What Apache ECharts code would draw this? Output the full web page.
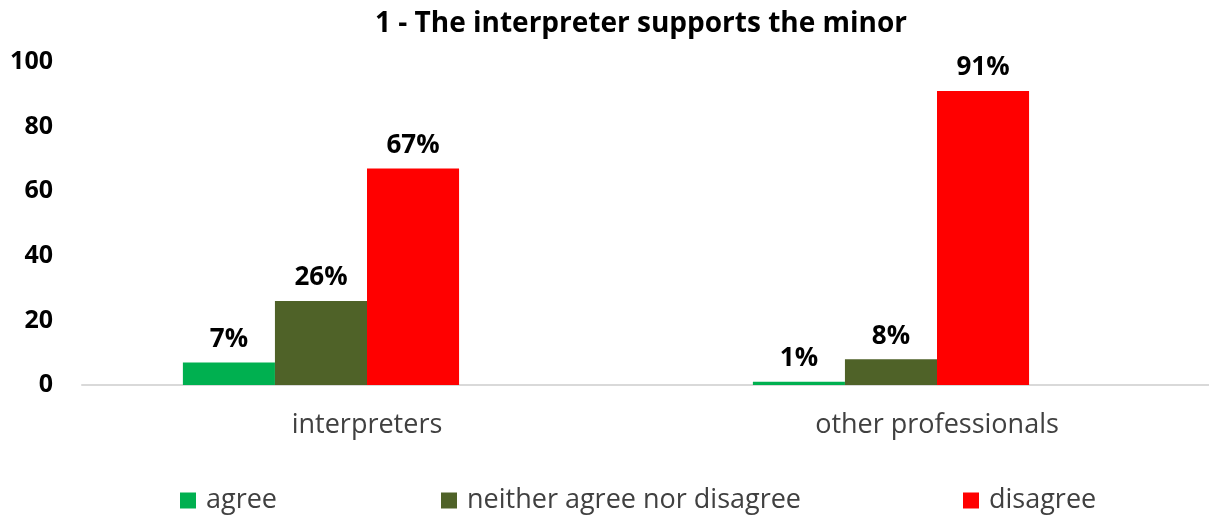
<!DOCTYPE html>
<html>
<head>
<meta charset="utf-8">
<script src="https://cdn.jsdelivr.net/npm/echarts@6/dist/echarts.min.js"></script>
<style>
  html, body { margin: 0; padding: 0; background: #fff; }
  #chart { width: 1209px; height: 515px; }
</style>
</head>
<body>
<div id="chart"></div>
<script>
var categories = ['interpreters', 'other professionals'];
var agree = [7, 1];
var neither = [26, 8];
var disagree = [67, 91];
var yTicks = [0, 20, 40, 60, 80, 100];

var FONT = 'Open Sans';
var labelStyle = {
  show: true, position: 'top', distance: 10,
  formatter: '{c}%', fontFamily: FONT, fontWeight: 'bold', fontSize: 26, color: '#000'
};

function legendAt(name, left) {
  return {
    data: [name], left: left, top: 487, padding: 0, icon: 'rect',
    itemWidth: 16, itemHeight: 16, itemGap: 10,
    textStyle: { fontFamily: FONT, fontSize: 27, color: '#404040', padding: [0, 0, 0, 5] }
  };
}

var myChart = echarts.init(document.getElementById('chart'));
var option = {
  animation: false,
  title: {
    text: '1 - The interpreter supports the minor',
    left: 375, top: 10, padding: 0,
    textStyle: { fontFamily: FONT, fontWeight: 'bold', fontSize: 28, color: '#000' }
  },
  legend: [
    legendAt('agree', 180),
    legendAt('neither agree nor disagree', 441),
    legendAt('disagree', 963)
  ],
  grid: { left: 82, width: 1140, top: 62, bottom: 130, outerBoundsMode: 'none' },
  xAxis: {
    type: 'category', data: categories,
    axisLine: { lineStyle: { color: '#d9d9d9', width: 2 } },
    axisTick: { show: false },
    axisLabel: { fontFamily: FONT, fontSize: 27, color: '#404040', margin: 27 }
  },
  yAxis: {
    type: 'value', min: yTicks[0], max: yTicks[yTicks.length - 1], interval: 20,
    splitLine: { show: false },
    axisLine: { show: false },
    axisLabel: { fontFamily: FONT, fontWeight: 'bold', fontSize: 25, color: '#000', margin: 29 }
  },
  series: [
    { name: 'agree', type: 'bar', data: agree, itemStyle: { color: '#00B050' }, label: labelStyle, barGap: '0%', barCategoryGap: '35.4%' },
    { name: 'neither agree nor disagree', type: 'bar', data: neither, itemStyle: { color: '#4F6228' }, label: labelStyle },
    { name: 'disagree', type: 'bar', data: disagree, itemStyle: { color: '#FF0000' }, label: labelStyle },
    // empty fourth slot, as in the original sheet
    { name: 'blank', type: 'bar', data: [null, null] }
  ]
};
myChart.setOption(option);
window.onresize = myChart.resize;
</script>
</body>
</html>
